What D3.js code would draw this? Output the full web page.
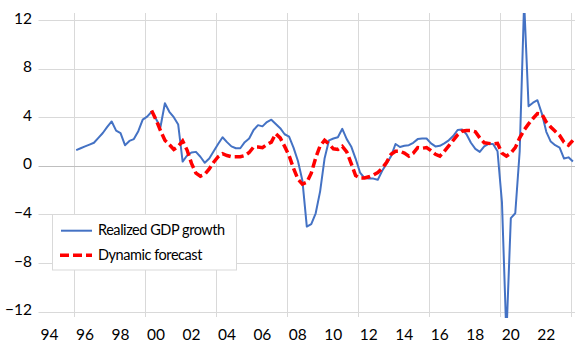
<!DOCTYPE html>
<html>
<head>
<meta charset="utf-8">
<script src="https://cdn.jsdelivr.net/npm/d3@7"></script>
<style>
body { margin: 0; background: #fff; }
svg text { font-family: Lato, "Open Sans", sans-serif; fill: #000; }
</style>
</head>
<body>
<div id="chart"></div>
<script>
// quarterly data, first point is 1996Q1
var firstYear = 1996
// realized GDP growth, 1996Q1 - 2024Q1
var realized = [
    1.3, 1.45, 1.6, 1.75, 1.9, 2.3, 2.7, 3.2, 3.65, 2.9, 2.7, 1.7,
    2.05, 2.2, 2.85, 3.8, 4.05, 4.45, 3.85, 3.2, 5.15, 4.45, 4.0, 3.4,
    0.35, 0.85, 1.1, 1.15, 0.75, 0.25, 0.6, 1.2, 1.8, 2.35, 1.95, 1.6,
    1.45, 1.45, 1.95, 2.25, 2.95, 3.35, 3.25, 3.6, 3.8, 3.45, 3.1, 2.6,
    2.4, 1.5, 0.4, -1.2, -5.0, -4.8, -3.9, -2.1, 0.6, 2.1, 2.25, 2.35,
    3.05, 2.2, 1.6, 0.6, -0.55, -1.0, -1.05, -1.05, -1.15, -0.4, 0.2, 0.8,
    1.8, 1.55, 1.65, 1.7, 1.9, 2.2, 2.25, 2.25, 1.85, 1.6, 1.65, 1.85,
    2.1, 2.45, 2.95, 3.0, 2.6, 1.9, 1.4, 1.15, 1.6, 1.8, 1.8, 1.2,
    -3.0, -14.0, -4.3, -3.9, 1.2, 13.5, 4.9, 5.2, 5.4, 4.3, 2.8, 2.0,
    1.7, 1.5, 0.6, 0.7, 0.35
]
// dynamic forecast starts at 2000Q2 (index 17)
var forecastStart = 17
var forecast = [
    4.55, 3.8, 2.9, 2.1, 1.75, 1.35, 1.6, 2.05, 1.3, 0.2, -0.6, -0.85,
    -0.7, -0.25, 0.3, 0.75, 1.0, 0.85, 0.75, 0.75, 0.75, 0.85, 1.1, 1.55,
    1.55, 1.5, 1.75, 1.95, 2.65, 2.3, 1.6, 0.85, -0.2, -1.1, -1.5, -1.35,
    -0.6, 0.65, 1.65, 2.1, 1.8, 1.4, 1.35, 1.6, 1.15, 0.2, -0.8, -1.0,
    -1.0, -0.9, -0.75, -0.55, -0.2, 0.3, 0.95, 1.2, 1.2, 1.05, 0.8, 1.05,
    1.5, 1.45, 1.5, 1.25, 0.95, 0.8, 1.2, 1.65, 2.1, 2.55, 2.85, 2.9,
    2.9, 2.8, 2.3, 1.9, 1.85, 1.8, 1.85, 1.05, 0.8, 1.05, 1.5, 2.3,
    2.95, 3.45, 3.9, 4.3, 4.25, 3.6, 3.2, 2.85, 2.5, 1.95, 1.7, 2.1
]
var yTicks = [-12, -8, -4, 0, 4, 8, 12]
var labelYears = [1994, 1996, 1998, 2000, 2002, 2004, 2006, 2008, 2010, 2012, 2014, 2016, 2018, 2020, 2022]
var gridYears = [1996, 2000, 2004, 2008, 2012, 2016, 2020, 2024]

var chart_width = 575
var chart_height = 361

var svg = d3.select('#chart')
    .append('svg')
    .attr('width', chart_width)
    .attr('height', chart_height)

var x = d3.scaleLinear().domain([1994, 2024]).range([38.5, 570.7])
var y = d3.scaleLinear().domain([-12, 12]).range([311.7, 20])

function qTime(i){
    return firstYear + (i + 0.5) / 4
}

//网格
svg.append('g')
    .selectAll('line')
    .data(yTicks.filter(function(d){ return d != 0 }))
    .enter()
    .append('line')
    .attr('x1', 38.5)
    .attr('x2', 575)
    .attr('y1', function(d){ return Math.round(y(d)) + 0.5 })
    .attr('y2', function(d){ return Math.round(y(d)) + 0.5 })
    .style('stroke', '#d9d9d9')

svg.append('g')
    .selectAll('line')
    .data(gridYears)
    .enter()
    .append('line')
    .attr('x1', function(d){ return Math.round(x(d)) + 0.5 })
    .attr('x2', function(d){ return Math.round(x(d)) + 0.5 })
    .attr('y1', 13)
    .attr('y2', 317)
    .style('stroke', '#d9d9d9')

// zero line
svg.append('line')
    .attr('x1', 38.5)
    .attr('x2', 575)
    .attr('y1', Math.round(y(0)) + 0.5)
    .attr('y2', Math.round(y(0)) + 0.5)
    .style('stroke', '#bfbfbf')

// axes, labels only
var yAxis = svg.append('g')
    .attr('transform', 'translate(38.5,0)')
    .call(d3.axisLeft(y).tickValues(yTicks).tickSize(0).tickPadding(6.5))
yAxis.select('.domain').remove()
yAxis.selectAll('text')
    .attr('font-size', 15.5)
    .attr('dy', '0.2em')

var xAxis = svg.append('g')
    .attr('transform', 'translate(0,311.7)')
    .call(d3.axisBottom(x).tickValues(labelYears).tickSize(0)
        .tickFormat(function(d){ return String(d).slice(2) }))
xAxis.select('.domain').remove()
xAxis.selectAll('text')
    .attr('font-size', 15.5)
    .attr('text-anchor', 'start')
    .attr('dy', null)
    .attr('x', 1.5)
    .attr('y', 28.3)

// clip
svg.append('clipPath')
    .attr('id', 'plot')
    .append('rect')
    .attr('x', 38.5)
    .attr('y', 13)
    .attr('width', 537)
    .attr('height', 305)

var line = d3.line()
    .x(function(d){ return x(d.t) })
    .y(function(d){ return y(d.v) })

var realizedPts = realized.map(function(v, i){ return {t: qTime(i), v: v} })
var forecastPts = forecast.map(function(v, i){ return {t: qTime(i + forecastStart), v: v} })

svg.append('path')
    .datum(realizedPts)
    .attr('clip-path', 'url(#plot)')
    .attr('d', line)
    .style('fill', 'none')
    .style('stroke', '#4472c4')
    .style('stroke-width', 2)
    .style('stroke-linejoin', 'round')

svg.append('path')
    .datum(forecastPts)
    .attr('clip-path', 'url(#plot)')
    .attr('d', line)
    .style('fill', 'none')
    .style('stroke', '#ff0000')
    .style('stroke-width', 3.5)
    .style('stroke-dasharray', '9,4')

// legend
var legend = svg.append('g')
legend.append('rect')
    .attr('x', 52.5)
    .attr('y', 214.5)
    .attr('width', 184)
    .attr('height', 55.5)
    .style('fill', '#fff')
    .style('stroke', '#d9d9d9')

legend.append('line')
    .attr('x1', 61).attr('x2', 92)
    .attr('y1', 230.7).attr('y2', 230.7)
    .style('stroke', '#4472c4')
    .style('stroke-width', 2)
legend.append('line')
    .attr('x1', 60).attr('x2', 92)
    .attr('y1', 255.3).attr('y2', 255.3)
    .style('stroke', '#ff0000')
    .style('stroke-width', 3.5)
    .style('stroke-dasharray', '9,4')

legend.append('text')
    .attr('x', 98)
    .attr('y', 234.5)
    .attr('font-size', 14.5)
    .attr('letter-spacing', -0.45)
    .text('Realized GDP growth')
legend.append('text')
    .attr('x', 98)
    .attr('y', 259.5)
    .attr('font-size', 14.5)
    .attr('letter-spacing', -0.45)
    .text('Dynamic forecast')
</script>
</body>
</html>
